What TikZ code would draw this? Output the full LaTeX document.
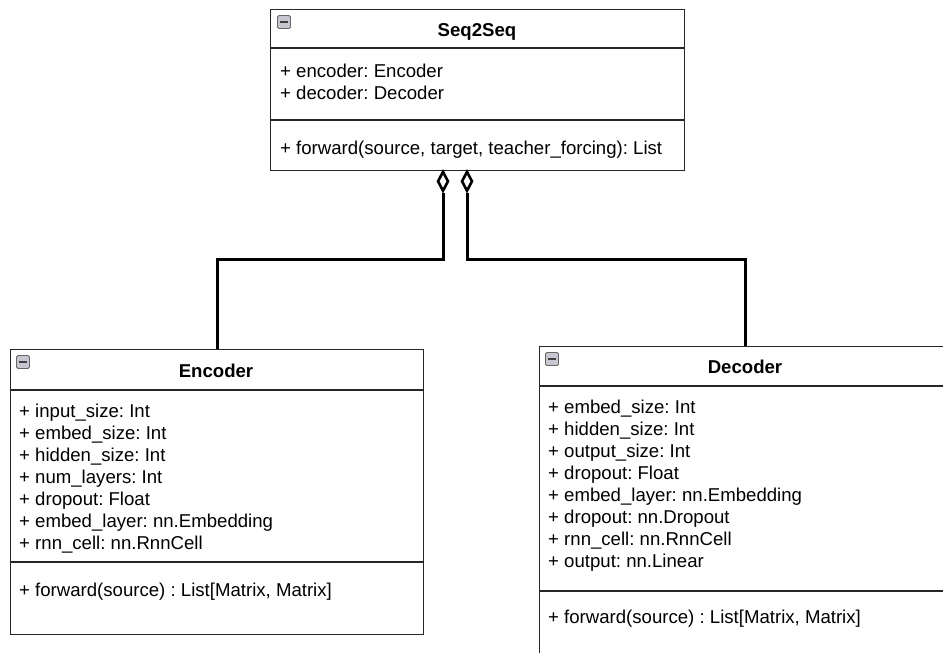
\documentclass[tikz,border=0pt]{standalone}
\usepackage{fontspec}
\setmainfont{Liberation Sans}
\usetikzlibrary{shapes.geometric,calc}
\tikzset{
  umlbox/.style={draw=black!85, line width=1.3pt, fill=white, rectangle, inner sep=0pt, anchor=north west},
  divider/.style={draw=black!85, line width=1.3pt},
  member/.style={anchor=base west, inner sep=0pt, font=\fontsize{18.6}{22}\selectfont\frenchspacing},
  title/.style={anchor=base, inner sep=0pt, font=\fontsize{18.6}{22}\selectfont\bfseries},
  conn/.style={draw=black, line width=3pt},
  agg/.style={diamond, draw=black, line width=2.6pt, fill=white, inner sep=0pt,
    minimum width=11pt, minimum height=20pt, anchor=north},
  foldicon/.style={draw=black!60, fill=blue!10!gray!40, rounded corners=1.5pt, line width=0.9pt,
    minimum size=13pt, inner sep=0pt, anchor=north west},
}
% draws the small collapse icon in a class header
\newcommand{\foldmark}[2]{%
  \node[foldicon] (#1) at (#2) {};
  \draw[black!75, line width=1.5pt] ($(#1.west)+(3pt,0)$) -- ($(#1.east)+(-3pt,0)$);
}
\begin{document}
\begin{tikzpicture}[x=1pt,y=-1pt]
\useasboundingbox (0,0) rectangle (943,653);
\fill[white] (0,0) rectangle (943,653);

% ---------- Seq2Seq ----------
\node[umlbox, minimum width=414pt, minimum height=161pt] (seq) at (270,9) {};
\draw[divider] (270,48) -- (684,48);
\draw[divider] (270,120) -- (684,120);
\foldmark{seqicon}{277,15}
\node[title] (seqtitle) at (477,36) {Seq2Seq};
\node[member] (seqa1) at (280,77) {+ encoder: Encoder};
\node[member] (seqa2) at (280,99) {+ decoder: Decoder};
\node[member] (seqm1) at (280,154) {+ forward(source, target, teacher\_forcing): List};

% ---------- Encoder ----------
\node[umlbox, minimum width=413pt, minimum height=285pt] (enc) at (10,349) {};
\draw[divider] (10,390) -- (423,390);
\draw[divider] (10,562) -- (423,562);
\foldmark{encicon}{16,355}
\node[title] (enctitle) at (216,377) {Encoder};
\foreach \t [count=\i] in {+ input\_size: Int, + embed\_size: Int, + hidden\_size: Int,
    + num\_layers: Int, + dropout: Float, + embed\_layer: nn.Embedding, + rnn\_cell: nn.RnnCell}
  \node[member] (enca\i) at (19,{417+22*(\i-1)}) {\t};
\node[member] (encm1) at (19,596) {+ forward(source) : List[Matrix, Matrix]};

% ---------- Decoder ----------
\node[umlbox, minimum width=411pt, minimum height=320pt] (dec) at (539,346) {};
\draw[divider] (539,386) -- (950,386);
\draw[divider] (539,591) -- (950,591);
\foldmark{decicon}{545,352}
\node[title] (dectitle) at (745,373) {Decoder};
\foreach \t [count=\i] in {+ embed\_size: Int, + hidden\_size: Int, + output\_size: Int,
    + dropout: Float, + embed\_layer: nn.Embedding, + dropout: nn.Dropout,
    + rnn\_cell: nn.RnnCell, + output: nn.Linear}
  \node[member] (deca\i) at (548,{413+22*(\i-1)}) {\t};
\node[member] (decm1) at (548,623) {+ forward(source) : List[Matrix, Matrix]};

% ---------- aggregation connectors ----------
\coordinate (bend) at (0,259);
\node[agg] (aggenc) at (443,170) {};
\node[agg] (aggdec) at (467,170) {};
\draw[conn] (aggenc.south) -- (aggenc.south |- bend) -| (enc.north);
\draw[conn] (aggdec.south) -- (aggdec.south |- bend) -| (dec.north);
\end{tikzpicture}
\end{document}
